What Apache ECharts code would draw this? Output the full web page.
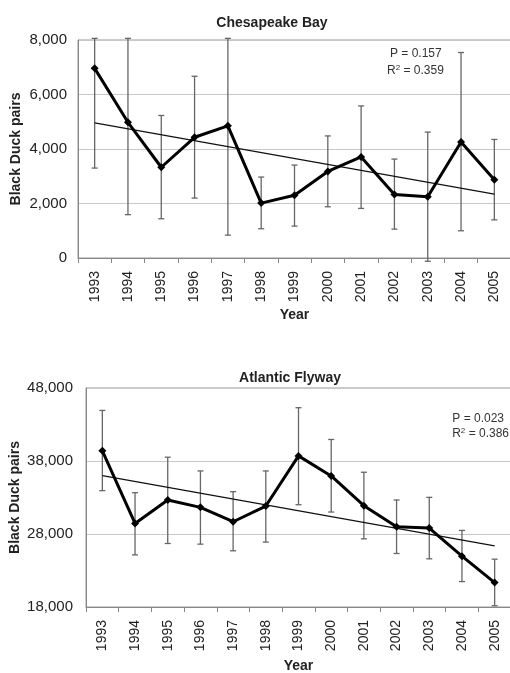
<!DOCTYPE html>
<html>
<head>
<meta charset="utf-8">
<script src="https://cdn.jsdelivr.net/npm/echarts@6/dist/echarts.min.js"></script>
<style>
  html, body { margin: 0; padding: 0; background: #fff; }
  #chart { width: 510px; height: 673px; }
</style>
</head>
<body>
<div id="chart"></div>
<script>
// years on the x axis
var years = ['1993', '1994', '1995', '1996', '1997', '1998', '1999', '2000', '2001', '2002', '2003', '2004', '2005'];

// Chesapeake Bay
var chesMean = [6960, 4980, 3330, 4430, 4850, 2015, 2300, 3175, 3710, 2330, 2250, 4260, 2870];
var chesLow  = [3300, 1590, 1440, 2200, 840, 1075, 1170, 1880, 1820, 1060, -120, 1000, 1400];
var chesHigh = [8060, 8060, 5230, 6670, 8060, 2970, 3410, 4480, 5580, 3630, 4620, 7540, 4350];
var chesTrend = [4960, 2345]; // fitted value at 1993 and 2005

// Atlantic Flyway
var atlMean = [39400, 29450, 32660, 31650, 29680, 31830, 38700, 35950, 31880, 28990, 28810, 24960, 21340];
var atlLow  = [33940, 25140, 26700, 26610, 25700, 26890, 32010, 31010, 27340, 25330, 24600, 21480, 18180];
var atlHigh = [44930, 33660, 38520, 36640, 33800, 36640, 45300, 40950, 36460, 32660, 33020, 28490, 24550];
var atlTrend = [36000, 26380];

var FONT = 'Liberation Sans, Arial, sans-serif';

var chart = echarts.init(document.getElementById('chart'), null, { renderer: 'canvas' });

function errorBars(params, api) {
  var lo = api.coord([api.value(0), api.value(1)]);
  var hi = api.coord([api.value(0), api.value(2)]);
  var w = 3;
  var st = { stroke: '#666', lineWidth: 1.3 };
  return {
    type: 'group',
    children: [
      { type: 'line', shape: { x1: lo[0], y1: lo[1], x2: hi[0], y2: hi[1] }, style: st },
      { type: 'line', shape: { x1: lo[0] - w, y1: lo[1], x2: lo[0] + w, y2: lo[1] }, style: st },
      { type: 'line', shape: { x1: hi[0] - w, y1: hi[1], x2: hi[0] + w, y2: hi[1] }, style: st }
    ]
  };
}

function errData(low, high) {
  return years.map(function (y, i) { return [i, low[i], high[i]]; });
}

function trendData(t) {
  return [[years[0], t[0]], [years[years.length - 1], t[1]]];
}

var xAxisBase = {
  type: 'category',
  data: years,
  boundaryGap: true,
  axisLine: { lineStyle: { color: '#888', width: 1 } },
  axisTick: { show: true, length: 5, lineStyle: { color: '#888' } },
  axisLabel: { rotate: 90, color: '#222', fontSize: 14, fontFamily: FONT, margin: 13 },
  name: 'Year',
  nameLocation: 'middle',
  nameGap: 50,
  nameTextStyle: { color: '#222', fontSize: 14, fontWeight: 'bold', fontFamily: FONT }
};

var yAxisBase = {
  type: 'value',
  name: 'Black Duck pairs',
  nameLocation: 'middle',
  nameMoveOverlap: false,
  nameTextStyle: { color: '#222', fontSize: 14, fontWeight: 'bold', fontFamily: FONT },
  axisLine: { show: true, lineStyle: { color: '#888' } },
  axisTick: { show: false },
  axisLabel: {
    color: '#222', fontSize: 15, fontFamily: FONT,
    formatter: function (v) { return v.toLocaleString('en-US'); }
  },
  splitLine: { show: true, lineStyle: { color: '#c8c8c8', width: 1 } }
};

var richLabel = {
  r: { fontSize: 12, fontFamily: FONT, fill: '#333' },
  s: { fontSize: 8, fontFamily: FONT, fill: '#333', verticalAlign: 'top', padding: [0, 0, 6, 0] }
};

function statText(pos, text) {
  return {
    type: 'text',
    left: pos.left, right: pos.right, top: pos.top,
    style: { text: text, fontSize: 12, fontFamily: FONT, fill: '#333', rich: richLabel }
  };
}

var option = {
  backgroundColor: '#fff',
  animation: false,
  title: [
    { text: 'Chesapeake Bay', left: 267, top: 11, textAlign: 'center',
      textStyle: { fontSize: 14, fontWeight: 'bold', color: '#222', fontFamily: FONT } },
    { text: 'Atlantic Flyway', left: 285, top: 366, textAlign: 'center',
      textStyle: { fontSize: 14, fontWeight: 'bold', color: '#222', fontFamily: FONT } }
  ],
  grid: [
    { left: 78, top: 40, width: 433, height: 218, show: true, borderColor: '#999', borderWidth: 1, outerBoundsMode: 'none' },
    { left: 86, top: 388, width: 425, height: 219, show: true, borderColor: '#999', borderWidth: 1, outerBoundsMode: 'none' }
  ],
  xAxis: [
    Object.assign({}, xAxisBase, { gridIndex: 0 }),
    Object.assign({}, xAxisBase, { gridIndex: 1, nameGap: 52 })
  ],
  yAxis: [
    Object.assign({}, yAxisBase, { gridIndex: 0, min: 0, max: 8000, interval: 2000, nameGap: 55,
      axisLabel: Object.assign({}, yAxisBase.axisLabel, { margin: 11 }) }),
    Object.assign({}, yAxisBase, { gridIndex: 1, min: 18000, max: 48000, interval: 10000, nameGap: 64,
      axisLabel: Object.assign({}, yAxisBase.axisLabel, { margin: 13 }) })
  ],
  graphic: [
    statText({ left: 390, top: 48 }, 'P = 0.157'),
    statText({ left: 387, top: 64 }, '{r|R}{s|2}{r| = 0.359}'),
    statText({ right: 6, top: 413 }, 'P = 0.023'),
    statText({ right: 1, top: 427 }, '{r|R}{s|2}{r| = 0.386}')
  ],
  series: [
    { type: 'custom', xAxisIndex: 0, yAxisIndex: 0, renderItem: errorBars, data: errData(chesLow, chesHigh), clip: false, z: 1 },
    { type: 'line', xAxisIndex: 0, yAxisIndex: 0, data: trendData(chesTrend), symbol: 'none',
      lineStyle: { color: '#111', width: 1.2 }, z: 2 },
    { type: 'line', xAxisIndex: 0, yAxisIndex: 0, data: chesMean, symbol: 'diamond', symbolSize: 8,
      itemStyle: { color: '#000' }, lineStyle: { color: '#000', width: 3 }, z: 3 },

    { type: 'custom', xAxisIndex: 1, yAxisIndex: 1, renderItem: errorBars, data: errData(atlLow, atlHigh), clip: false, z: 1 },
    { type: 'line', xAxisIndex: 1, yAxisIndex: 1, data: trendData(atlTrend), symbol: 'none',
      lineStyle: { color: '#111', width: 1.2 }, z: 2 },
    { type: 'line', xAxisIndex: 1, yAxisIndex: 1, data: atlMean, symbol: 'diamond', symbolSize: 8,
      itemStyle: { color: '#000' }, lineStyle: { color: '#000', width: 3 }, z: 3 }
  ]
};

chart.setOption(option);
</script>
</body>
</html>
